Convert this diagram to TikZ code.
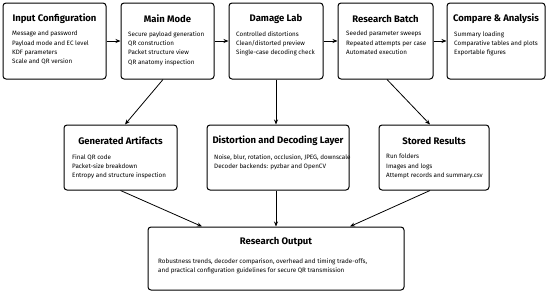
\documentclass[tikz,border=0pt]{standalone}
\usepackage{fontspec}
\setmainfont{Fira Sans}
\usetikzlibrary{arrows.meta}
\tikzset{
  box/.style={draw, line width=1pt, rounded corners=3pt, fill=white},
  ttl/.style={font=\bfseries\fontsize{9.5}{10}\selectfont, inner sep=0},
  body/.style={font=\fontsize{6.3}{9.3}\selectfont, align=left, anchor=north west, inner sep=0},
  arr/.style={-{Stealth[length=5pt,width=4pt]}, line width=0.8pt}
}
\begin{document}
\begin{tikzpicture}[x=1pt,y=1pt,yscale=-1,xscale=1]
\useasboundingbox (0,0) rectangle (550,295);
% top row
\node [box, minimum width=103pt, minimum height=76pt] (inp) at (54.5,41) {};
\node [box, minimum width=93pt, minimum height=76pt] (main) at (167.5,41) {};
\node [box, minimum width=94pt, minimum height=76pt] (dmg) at (276,41) {};
\node [box, minimum width=95pt, minimum height=76pt] (batch) at (385.5,41) {};
\node [box, minimum width=98pt, minimum height=76pt] (cmp) at (496,41) {};
\node [ttl] (inpT) at (54.5,19) {Input Configuration};
\node [ttl] (mainT) at (167.5,19) {Main Mode};
\node [ttl] (dmgT) at (276,19) {Damage Lab};
\node [ttl] (batchT) at (385.5,19) {Research Batch};
\node [ttl] (cmpT) at (496,19) {Compare \& Analysis};
\node [body] (inpB) at (12,31) {Message and password\\Payload mode and EC level\\KDF parameters\\Scale and QR version};
\node [body] (mainB) at (128,31) {Secure payload generation\\QR construction\\Packet structure view\\QR anatomy inspection};
\node [body] (dmgB) at (236,31) {Controlled distortions\\Clean/distorted preview\\Single-case decoding check};
\node [body] (batchB) at (346,31) {Seeded parameter sweeps\\Repeated attempts per case\\Automated execution};
\node [body] (cmpB) at (454,31) {Summary loading\\Comparative tables and plots\\Exportable figures};
% middle row
\node [box, minimum width=113pt, minimum height=65pt] (gen) at (120.5,157.5) {};
\node [box, minimum width=142pt, minimum height=65pt] (dist) at (278,157.5) {};
\node [box, minimum width=110pt, minimum height=65pt] (stored) at (434,157.5) {};
\node [ttl] (genT) at (120.5,141) {Generated Artifacts};
\node [ttl] (distT) at (278,141) {Distortion and Decoding Layer};
\node [ttl] (storedT) at (434,141) {Stored Results};
\node [body] (genB) at (72,154) {Final QR code\\Packet-size breakdown\\Entropy and structure inspection};
\node [body] (distB) at (214,154) {Noise, blur, rotation, occlusion, JPEG, downscale\\Decoder backends: pyzbar and OpenCV};
\node [body] (storedB) at (386,154) {Run folders\\Images and logs\\Attempt records and summary.csv};
% bottom
\node [box, minimum width=256pt, minimum height=63pt] (out) at (276,258.5) {};
\node [ttl] (outT) at (276,242) {Research Output};
\node [body] (outB) at (158,258) {Robustness trends, decoder comparison, overhead and timing trade-offs,\\and practical configuration guidelines for secure QR transmission};
% arrows
\draw [arr] (inp) -- (main);
\draw [arr] (main) -- (dmg);
\draw [arr] (dmg) -- (batch);
\draw [arr] (batch) -- (cmp);
\draw [arr] ([xshift=-4.5pt]main.south) -- ([xshift=4.5pt]gen.north);
\draw [arr] (dmg.south) -- (dmg.south |- dist.north);
\draw [arr] ([xshift=1.5pt]batch.south) -- ([xshift=-4pt]stored.north);
\draw [arr] (gen.south) -- ([xshift=-74pt]out.north);
\draw [arr] (dmg.south |- dist.south) -- (dmg.south |- out.north);
\draw [arr] ([xshift=-4pt]stored.south) -- ([xshift=74pt]out.north);
\end{tikzpicture}
\end{document}
